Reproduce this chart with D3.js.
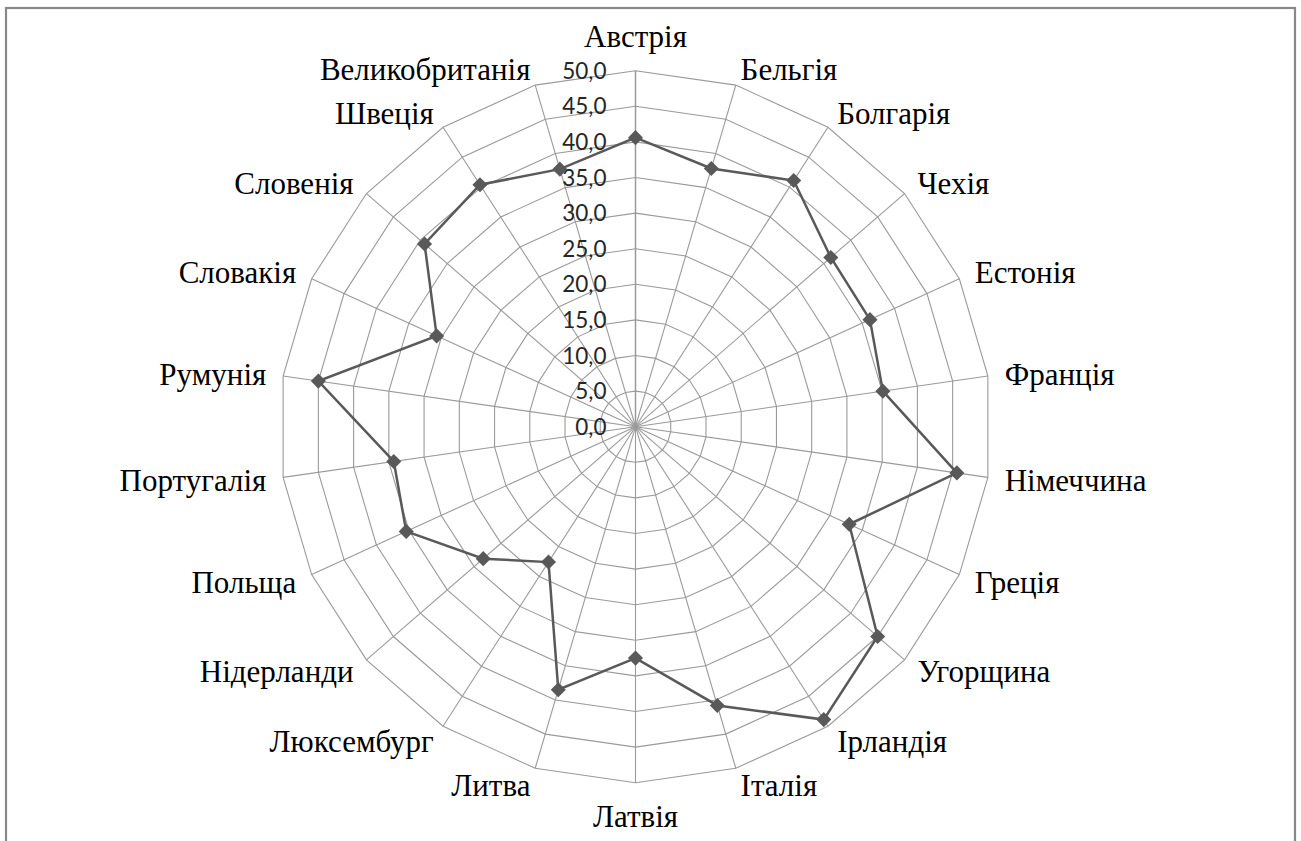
<!DOCTYPE html>
<html>
<head>
<meta charset="utf-8">
<script src="https://cdn.jsdelivr.net/npm/d3@7"></script>
<style>
  html, body { margin: 0; padding: 0; background: #fff; }
  svg { display: block; }
</style>
</head>
<body>
<svg width="1301" height="841"></svg>
<script>
const countries = [
  "Австрія", "Бельгія", "Болгарія", "Чехія", "Естонія", "Франція",
  "Німеччина", "Греція", "Угорщина", "Ірландія", "Італія", "Латвія",
  "Литва", "Люксембург", "Нідерланди", "Польща", "Португалія", "Румунія",
  "Словакія", "Словенія", "Швеція", "Великобританія"
];
const values = [
  40.6, 37.8, 41.1, 36.3, 36.2, 35.1,
  45.6, 33.0, 45.0, 48.9, 40.8, 32.5,
  38.5, 22.6, 28.3, 35.4, 34.3, 45.0,
  30.7, 39.2, 40.4, 37.7
];
const ticks = [0, 5, 10, 15, 20, 25, 30, 35, 40, 45, 50];

const svg = d3.select("svg");
const cx = 635.5;
const cy = 426.7;
const R = 356;
const gridColor = "#9a9a9a";
const lineColor = "#595959";

const fmt = d3.formatLocale({ decimal: ",", thousands: " ", grouping: [3], currency: ["", ""] }).format(".1f");

const r = d3.scaleLinear().domain([0, 50]).range([0, R]);
const angle = d3.scaleBand().domain(countries).range([0, 2 * Math.PI]).padding(0);

const px = (c, v) => cx + r(v) * Math.sin(angle(c));
const py = (c, v) => cy - r(v) * Math.cos(angle(c));

// chart area border
svg.append("rect")
  .attr("x", 6).attr("y", 8)
  .attr("width", 1289).attr("height", 900)
  .attr("fill", "#fff")
  .attr("stroke", "#898989")
  .attr("stroke-width", 2.2);

const g = svg.append("g");

// rings
g.selectAll("polygon.ring").data(ticks.slice(1)).join("polygon")
  .attr("class", "ring")
  .attr("points", t => countries.map(c => px(c, t) + "," + py(c, t)).join(" "))
  .attr("fill", "none")
  .attr("stroke", gridColor)
  .attr("stroke-width", 1.1);

// spokes
g.selectAll("line.spoke").data(countries).join("line")
  .attr("class", "spoke")
  .attr("x1", cx).attr("y1", cy)
  .attr("x2", c => px(c, 50)).attr("y2", c => py(c, 50))
  .attr("stroke", gridColor)
  .attr("stroke-width", c => c === countries[0] ? 1.5 : 1.1);

// value labels
g.selectAll("text.tick").data(ticks).join("text")
  .attr("class", "tick")
  .attr("x", cx - 29)
  .attr("y", t => cy - r(t))
  .attr("dy", "0.36em")
  .attr("text-anchor", "end")
  .attr("font-family", "Lato, 'Open Sans', sans-serif")
  .attr("font-size", 22.5)
  .attr("fill", "#262626")
  .text(t => fmt(t));

// series
const line = d3.lineRadial()
  .angle(c => angle(c))
  .radius(c => r(values[countries.indexOf(c)]))
  .curve(d3.curveLinearClosed);

g.append("path")
  .attr("transform", `translate(${cx},${cy})`)
  .attr("d", line(countries))
  .attr("fill", "none")
  .attr("stroke", lineColor)
  .attr("stroke-width", 2.5);

g.selectAll("path.marker").data(countries).join("path")
  .attr("class", "marker")
  .attr("transform", (c, i) => `translate(${px(c, values[i])},${py(c, values[i])})`)
  .attr("d", d3.symbol(d3.symbolDiamond2, 145)())
  .attr("fill", lineColor);

// category labels
const lr = 50 + 17 * 50 / R;
g.selectAll("text.cat").data(countries).join("text")
  .attr("class", "cat")
  .attr("x", c => px(c, lr))
  .attr("y", c => py(c, lr))
  .attr("text-anchor", c => {
    const s = Math.sin(angle(c));
    return Math.abs(s) < 0.01 ? "middle" : s > 0 ? "start" : "end";
  })
  .attr("dy", c => {
    const co = Math.cos(angle(c));
    if (co > 0.999) return "-0.22em";
    if (co < -0.999) return "0.89em";
    return "0.36em";
  })
  .attr("font-family", "'Liberation Serif', 'Times New Roman', serif")
  .attr("font-size", 31)
  .attr("fill", "#000")
  .text(c => c);
</script>
</body>
</html>
